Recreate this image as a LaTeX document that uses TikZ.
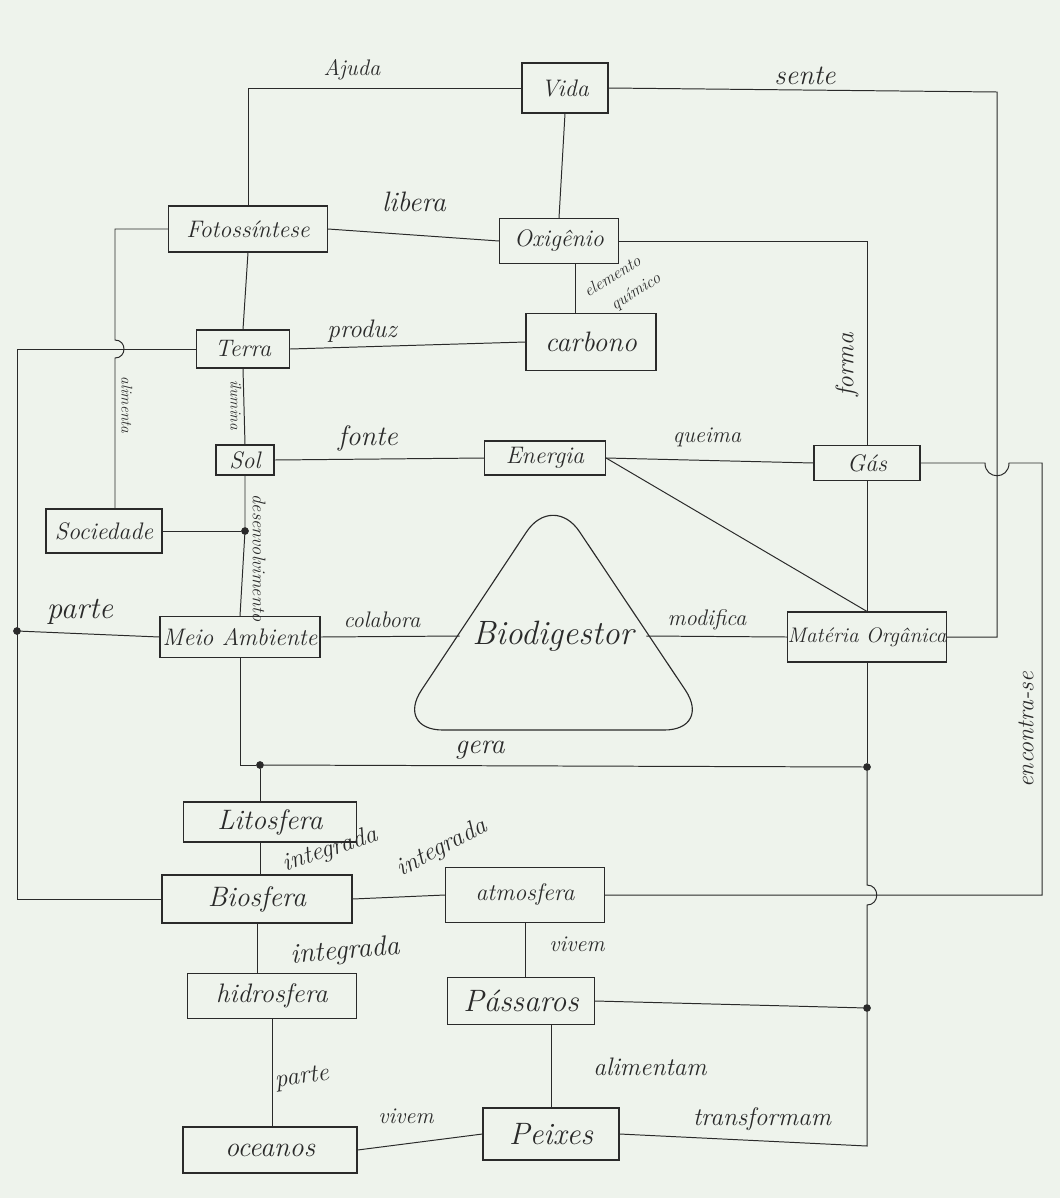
\documentclass[tikz,border=0pt]{standalone}
\usetikzlibrary{calc}
\newcommand{\myfs}[1]{\fontsize{#1}{#1}\selectfont}
\definecolor{paper}{HTML}{EEF3EC}
\definecolor{ink}{HTML}{2A2A2A}
\begin{document}
\begin{tikzpicture}[x=0.025cm, y=-0.025cm,
  box/.style={draw=ink, line width=0.8pt, rectangle, inner sep=0pt, text=ink, font=\itshape\myfs{17}},
  wh/.style 2 args={minimum width=#1*0.025cm, minimum height=#2*0.025cm},
  conn/.style={draw=ink, line width=0.7pt},
  lbl/.style={font=\itshape\myfs{16}, inner sep=1pt, text=ink},
  dot/.style={circle, fill=ink, draw=ink, inner sep=0pt, minimum size=5pt}]
\fill[paper] (0,0) rectangle (1060,1198);
\useasboundingbox (0,0) rectangle (1060,1198);

% nodes
\node[box, wh={86}{50}] (vida) at (565,88) {Vida};
\node[box, wh={159}{46}] (fot) at (248,229) {Fotossíntese};
\node[box, wh={119}{45}] (oxi) at (559,241) {Oxigênio};
\node[box, wh={130}{57}, font=\itshape\myfs{20}] (carb) at (591,342) {carbono};
\node[box, wh={93}{38}] (terra) at (243,349) {Terra};
\node[box, wh={58}{30}] (sol) at (245,460) {Sol};
\node[box, wh={121}{34}] (ener) at (545,458) {Energia};
\node[box, wh={106}{35}] (gas) at (867,463) {Gás};
\node[box, wh={116}{44}] (soc) at (104,531) {Sociedade};
\node[box, wh={160}{41}] (meio) at (240,637) {Meio Ambiente};
\node[box, wh={159}{50}, font=\itshape\myfs{15}] (mat) at (867,637) {Matéria Orgânica};
\node[box, wh={173}{40}, font=\itshape\myfs{20}] (lito) at (270,822) {Litosfera};
\node[box, wh={190}{48}, font=\itshape\myfs{20}] (bios) at (257,899) {Biosfera};
\node[box, wh={159}{55}] (atm) at (525,895) {atmosfera};
\node[box, wh={169}{45}, font=\itshape\myfs{19}] (hid) at (272,996) {hidrosfera};
\node[box, wh={147}{47}, font=\itshape\myfs{22}] (pass) at (521,1001) {Pássaros};
\node[box, wh={174}{46}, font=\itshape\myfs{20}] (oce) at (270,1150) {oceanos};
\node[box, wh={136}{52}, font=\itshape\myfs{22}] (peix) at (551,1134) {Peixes};

% Biodigestor
\draw[conn, line width=0.8pt, rounded corners=34pt] (553,730) -- (395,730) -- (553,492) -- (712,730) -- cycle;
\node[inner sep=0pt, wh={186}{40}, font=\itshape\myfs{24}, text=ink] (biod) at (553,636) {Biodigestor};

% junction dots
\node[dot] (d1) at (245,531) {};
\node[dot] (d2) at (17,631) {};
\node[dot] (d3) at (260,765) {};
\node[dot] (d4) at (867,767) {};
\node[dot] (d5) at (867,1008) {};
\coordinate (s1) at (115,0);
\coordinate (ox1) at ($(oxi.south)+(16,0)$);
\coordinate (pa1) at ($(pass.south)+(30,0)$);

% connectors
\draw[conn] (vida.west) -| (fot.north);
\draw[conn] (vida.east) -- (997,92) -- (997,637) -- (mat.east);
\draw[conn] (vida.south) -- (oxi.north);
\draw[conn] (fot.east) -- (oxi.west);
\draw[conn] (oxi.east) -| (gas.north);
\draw[conn] (ox1) -- (ox1 |- carb.north);
\draw[conn] (fot.south) -- (terra.north);
\draw[conn] (fot.west) -- (115,229) -- (115,340) .. controls (127,340) and (127,358) .. (115,358) -- (s1 |- soc.north);
\draw[conn] (terra.west) -- (17,349) -- (17,899) -- (bios.west);
\draw[conn] (terra.east) -- (carb.west);
\draw[conn] (terra.south) -- (sol.north);
\draw[conn] (sol.south) -- (d1) -- (meio.north);
\draw[conn] (soc.east) -- (d1);
\draw[conn] (sol.east) -- (ener.west);
\draw[conn] (ener.east) -- (gas.west);
\draw[conn] (ener.east) -- (mat.north);
\draw[conn] (gas.south) -- (mat.north);
\draw[conn] (gas.east) -- (985,463) .. controls (985,480) and (1009,480) .. (1009,463) -- (1042,463) -- (1042,895) -- (atm.east);
\draw[conn] (meio.east) -- (biod.west);
\draw[conn] (biod.east) -- (mat.west);
\draw[conn] (meio.west) -- (d2);
\draw[conn] (meio.south) |- (d3);
\draw[conn] (d3) -- (d4);
\draw[conn] (mat.south) -- (d4);
\draw[conn] (d3) -- (d3 |- lito.north);
\draw[conn] (d3 |- lito.south) -- (d3 |- bios.north);
\draw[conn] (bios.east) -- (atm.west);
\draw[conn] (bios.south) -- (bios.south |- hid.north);
\draw[conn] (atm.south) -- (atm.south |- pass.north);
\draw[conn] (hid.south) -- (hid.south |- oce.north);
\draw[conn] (pass.east) -- (d5);
\draw[conn] (pa1) -- (pa1 |- peix.north);
\draw[conn] (oce.east) -- (peix.west);
\draw[conn] (peix.east) -- (867,1146) -- (d5);
\draw[conn] (d5) -- (867,905) .. controls (880,905) and (880,885) .. (867,885) -- (d4);

% labels
\node[lbl] at (352,70) {Ajuda};
\node[lbl, font=\itshape\myfs{20}] at (805,76) {sente};
\node[lbl, font=\itshape\myfs{20}] at (414,202) {libera};
\node[lbl, font=\itshape\myfs{18}] at (362,331) {produz};
\node[lbl, font=\itshape\myfs{12}, rotate=32] at (612,276) {elemento};
\node[lbl, font=\itshape\myfs{12}, rotate=32] at (636,292) {químico};
\node[lbl, font=\itshape\myfs{18}, rotate=90] at (847,365) {forma};
\node[lbl, font=\itshape\myfs{11}, rotate=-90] at (127,405) {alimenta};
\node[lbl, font=\itshape\myfs{11}, rotate=-90] at (236,405) {ilumina};
\node[lbl, font=\itshape\myfs{13}, rotate=-90] at (259,558) {desenvolvimento};
\node[lbl, font=\itshape\myfs{20}] at (368,438) {fonte};
\node[lbl] at (707,437) {queima};
\node[lbl, font=\itshape\myfs{22}] at (80,612) {parte};
\node[lbl] at (382,620) {colabora};
\node[lbl] at (707,620) {modifica};
\node[lbl, font=\itshape\myfs{20}] at (480,750) {gera};
\node[lbl, font=\itshape\myfs{17}, rotate=90] at (1026,730) {encontra-se};
\node[lbl, font=\itshape\myfs{18}, rotate=18] at (330,850) {integrada};
\node[lbl, font=\itshape\myfs{18}, rotate=28] at (442,848) {integrada};
\node[lbl, font=\itshape\myfs{20}, rotate=5] at (345,952) {integrada};
\node[lbl] at (577,944) {vivem};
\node[lbl, font=\itshape\myfs{18}, rotate=8] at (302,1078) {parte};
\node[lbl, font=\itshape\myfs{18}] at (650,1067) {alimentam};
\node[lbl] at (406,1116) {vivem};
\node[lbl, font=\itshape\myfs{18}] at (762,1119) {transformam};
\end{tikzpicture}
\end{document}
